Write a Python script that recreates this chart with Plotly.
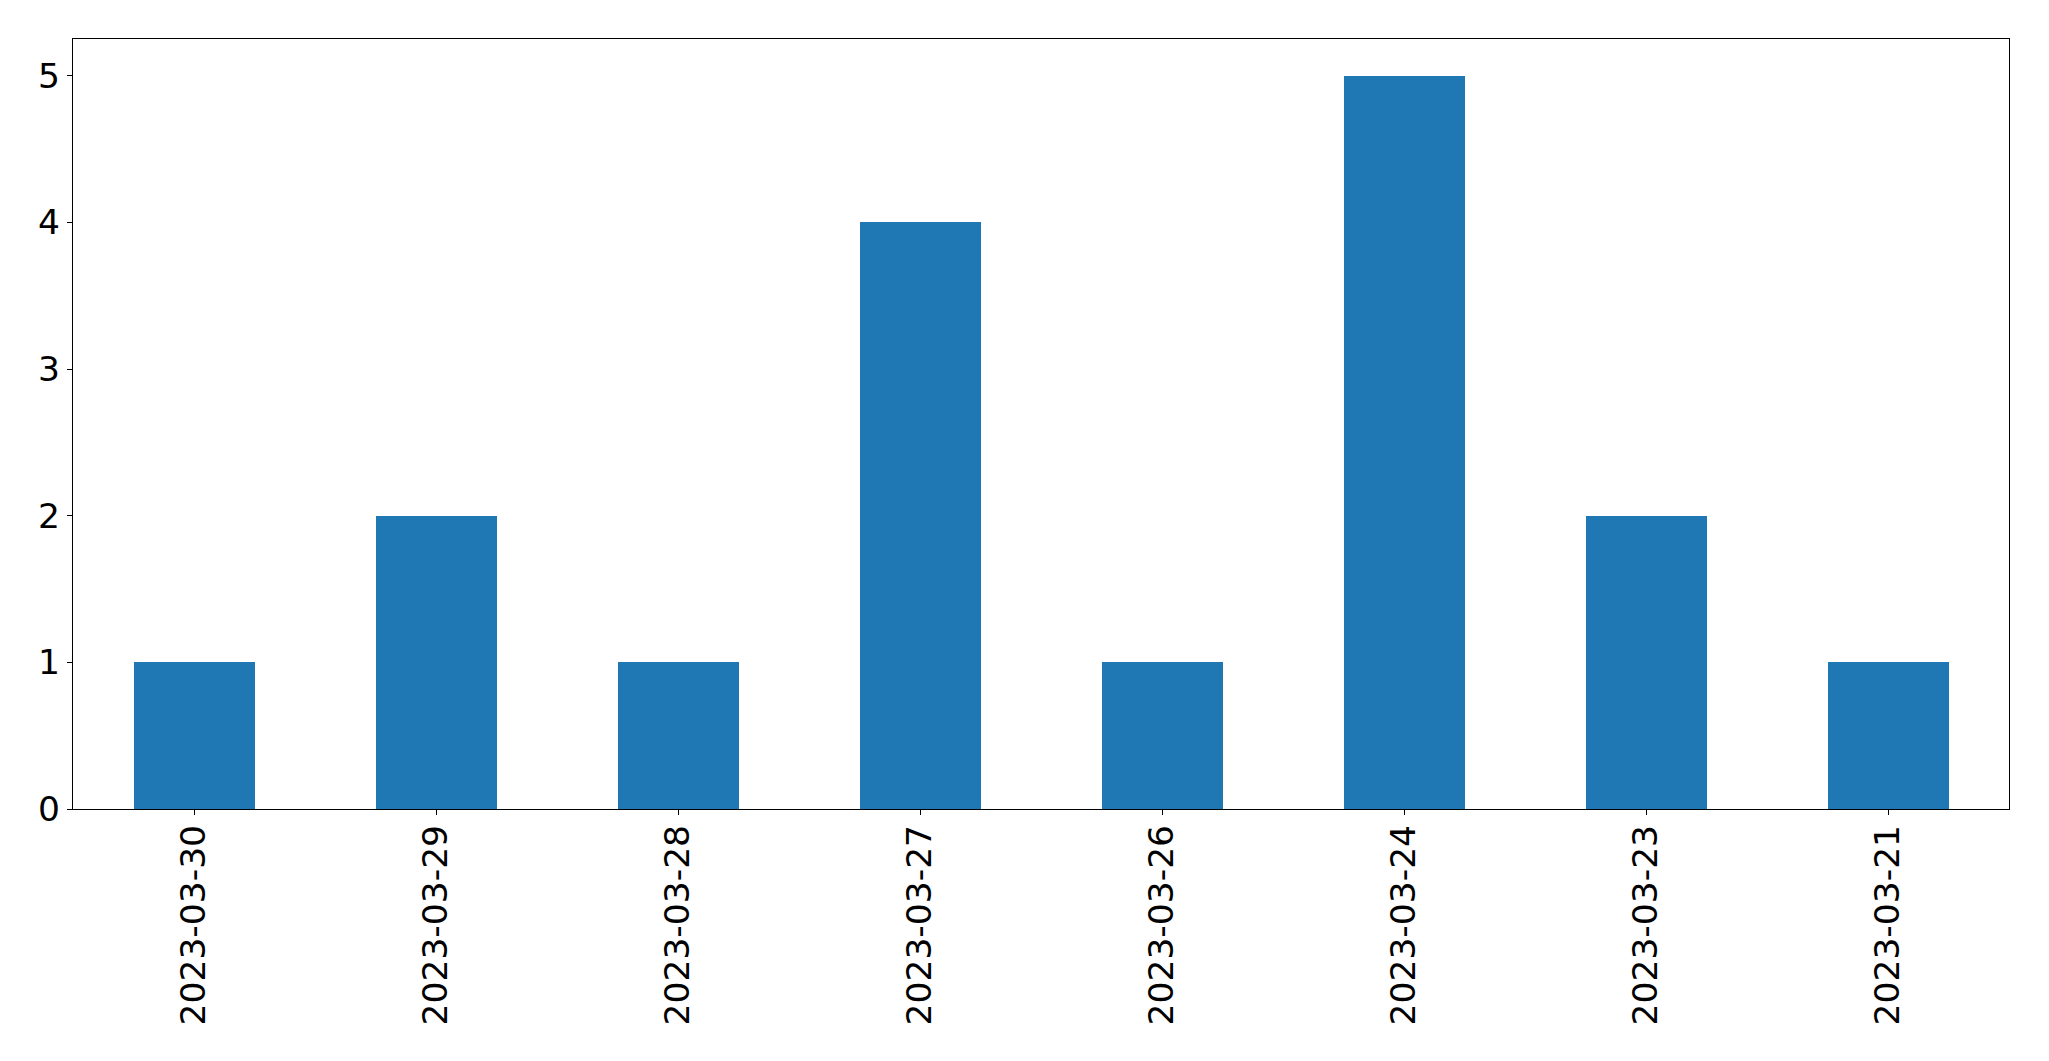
import plotly.graph_objects as go

dates = ["2023-03-30", "2023-03-29", "2023-03-28", "2023-03-27",
         "2023-03-26", "2023-03-24", "2023-03-23", "2023-03-21"]
counts = [1, 2, 1, 4, 1, 5, 2, 1]
y_ticks = [0, 1, 2, 3, 4, 5]

fig = go.Figure(go.Bar(x=dates, y=counts, marker_color="#1f77b4",
                       marker_line_width=0, width=0.5))

axis_common = dict(showline=True, linecolor="black", linewidth=1.3, mirror=True,
                   ticks="outside", ticklen=5, tickwidth=1.3, tickcolor="black",
                   showgrid=False, zeroline=False, automargin=False,
                   tickfont=dict(family="DejaVu Sans", size=34.5, color="black"))

fig.update_layout(
    width=2041, height=1053,
    margin=dict(l=65, r=40, t=31, b=252),
    paper_bgcolor="white", plot_bgcolor="white",
    showlegend=False,
    bargap=0,
    xaxis=dict(type="category", range=[-0.5, 7.5], tickangle=-90,
               ticklabelstandoff=-4, **axis_common),
    yaxis=dict(range=[0, 5.25], tickvals=y_ticks, ticktext=[str(v) for v in y_ticks], **axis_common),
)

fig.write_html("out.html")
